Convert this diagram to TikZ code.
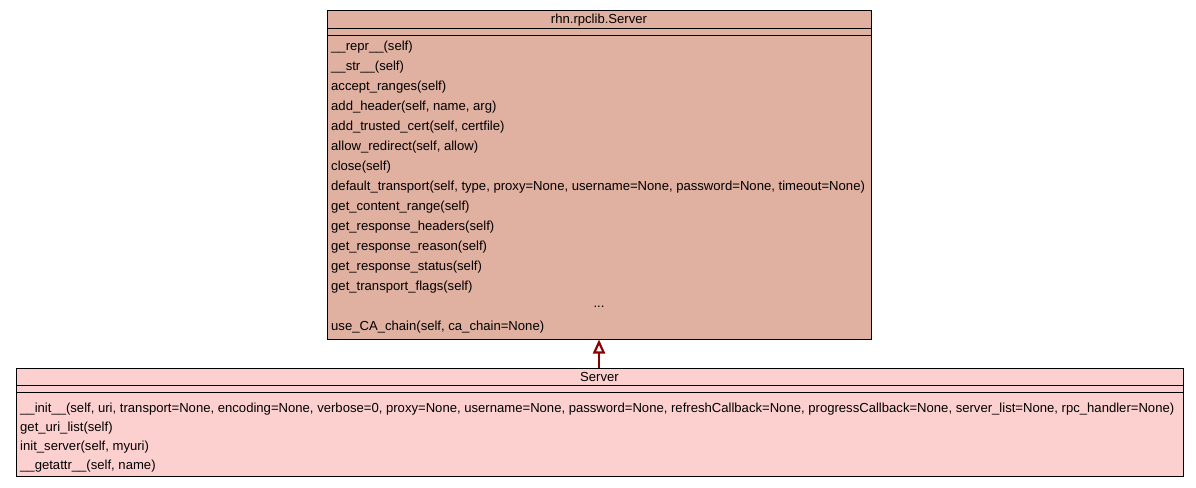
\documentclass[tikz,border=0pt]{standalone}
\usepackage{fontspec}
\setmainfont{Liberation Sans}
\usetikzlibrary{arrows.meta}
\usetikzlibrary{positioning}
\definecolor{basefill}{RGB}{224,176,160}
\definecolor{subfill}{RGB}{253,208,208}
\definecolor{inheritred}{RGB}{140,0,0}
\tikzset{basecls/.style={draw=black, line width=1pt, fill=basefill, inner sep=0pt}}
\tikzset{subcls/.style={draw=black, line width=1pt, fill=subfill, inner sep=0pt}}
\tikzset{clstitle/.style={inner sep=0pt, font=\fontsize{13.1}{15}\selectfont}}
\tikzset{method/.style={anchor=west, inner sep=0pt, font=\fontsize{13.1}{15}\selectfont}}
\tikzset{inherit/.style={draw=inheritred, line width=2.2pt,
    -{Triangle[open, length=14pt, width=12pt, line width=2.2pt]}}}

\begin{document}
\begin{tikzpicture}[x=1pt, y=-1pt]
        \useasboundingbox (0,0) rectangle (1196,487);

        % base class
        \node[basecls, minimum width=544, minimum height=328] (base) at (599,175) {};
        \node[clstitle] (basetitle) at (599,20) {rhn.rpclib.Server};
        \draw[line width=1pt] (327,29) -- (871,29);
        \draw[line width=1pt] (327,35.5) -- (871,35.5);
        \foreach \txt [count=\i] in {\_\_repr\_\_(self), \_\_str\_\_(self),
            accept\_ranges(self), {add\_header(self, name, arg)},
            {add\_trusted\_cert(self, certfile)}, {allow\_redirect(self, allow)},
            close(self),
            {default\_transport(self, type, proxy=None, username=None, password=None, timeout=None)},
            get\_content\_range(self), get\_response\_headers(self),
            get\_response\_reason(self), get\_response\_status(self),
            get\_transport\_flags(self)}
            \node[method] (bm\i) at (331,27+20*\i) {\txt};
        \node[clstitle] (bdots) at (599,307) {...};
        \node[method] (bmlast) at (331,327) {use\_CA\_chain(self, ca\_chain=None)};

        % subclass
        \node[subcls, minimum width=1167, minimum height=108] (sub) at (599.5,422) {};
        \node[clstitle] (subtitle) at (599.5,377) {Server};
        \draw[line width=1pt] (16,385.5) -- (1183,385.5);
        \draw[line width=1pt] (16,392) -- (1183,392);
        \foreach \txt [count=\i] in {{\_\_init\_\_(self, uri, transport=None, encoding=None, verbose=0, proxy=None, username=None, password=None, refreshCallback=None, progressCallback=None, server\_list=None, rpc\_handler=None)},
            get\_uri\_list(self), {init\_server(self, myuri)},
            {\_\_getattr\_\_(self, name)}}
            \node[method] (sm\i) at (20,390+19*\i) {\txt};

        \draw[inherit] (sub.north -| base.south) -- (base.south);
\end{tikzpicture}
\end{document}
